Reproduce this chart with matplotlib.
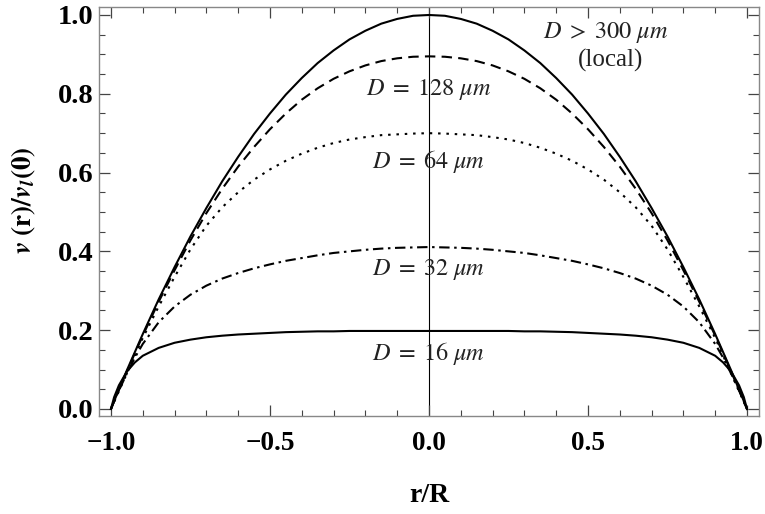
import matplotlib
matplotlib.use("Agg")
import matplotlib.pyplot as plt
from matplotlib.ticker import MultipleLocator

# radial position r/R and velocity profiles v(r)/v_l(0)
r = [-1.0, -0.99, -0.975, -0.95, -0.925, -0.9, -0.85, -0.8, -0.75, -0.7, -0.65, -0.6,
     -0.55, -0.5, -0.45, -0.4, -0.35, -0.3, -0.25, -0.2, -0.15, -0.1, -0.05, 0.0,
     0.05, 0.1, 0.15, 0.2, 0.25, 0.3, 0.35, 0.4, 0.45, 0.5, 0.55, 0.6, 0.65, 0.7,
     0.75, 0.8, 0.85, 0.9, 0.925, 0.95, 0.975, 0.99, 1.0]

v_local = [0.0, 0.020, 0.049, 0.098, 0.144, 0.190, 0.278, 0.360, 0.438, 0.510, 0.578, 0.640,
           0.698, 0.750, 0.798, 0.840, 0.878, 0.910, 0.938, 0.960, 0.978, 0.990, 0.998, 1.000,
           0.998, 0.990, 0.978, 0.960, 0.938, 0.910, 0.878, 0.840, 0.798, 0.750, 0.698, 0.640,
           0.578, 0.510, 0.438, 0.360, 0.278, 0.190, 0.144, 0.098, 0.049, 0.020, 0.0]
v_128 = [0.0, 0.019, 0.048, 0.095, 0.141, 0.186, 0.272, 0.352, 0.428, 0.497, 0.559, 0.615,
         0.665, 0.710, 0.750, 0.785, 0.814, 0.838, 0.857, 0.872, 0.883, 0.890, 0.894, 0.895,
         0.894, 0.890, 0.883, 0.872, 0.857, 0.838, 0.814, 0.785, 0.750, 0.710, 0.665, 0.615,
         0.559, 0.497, 0.428, 0.352, 0.272, 0.186, 0.141, 0.095, 0.048, 0.019, 0.0]
v_64 = [0.0, 0.018, 0.045, 0.090, 0.135, 0.180, 0.260, 0.335, 0.405, 0.465, 0.512, 0.550,
        0.582, 0.608, 0.630, 0.648, 0.663, 0.675, 0.684, 0.690, 0.695, 0.697, 0.699, 0.700,
        0.699, 0.697, 0.695, 0.690, 0.684, 0.675, 0.663, 0.648, 0.630, 0.608, 0.582, 0.550,
        0.512, 0.465, 0.405, 0.335, 0.260, 0.180, 0.135, 0.090, 0.045, 0.018, 0.0]
v_32 = [0.0, 0.020, 0.047, 0.090, 0.130, 0.165, 0.220, 0.260, 0.290, 0.313, 0.331, 0.345,
        0.357, 0.367, 0.376, 0.383, 0.390, 0.396, 0.400, 0.404, 0.407, 0.409, 0.410, 0.411,
        0.410, 0.409, 0.407, 0.404, 0.400, 0.396, 0.390, 0.383, 0.376, 0.367, 0.357, 0.345,
        0.331, 0.313, 0.290, 0.260, 0.220, 0.165, 0.130, 0.090, 0.047, 0.020, 0.0]
v_16 = [0.0, 0.030, 0.060, 0.095, 0.118, 0.135, 0.155, 0.168, 0.176, 0.182, 0.186, 0.189,
        0.191, 0.193, 0.195, 0.196, 0.197, 0.197, 0.198, 0.198, 0.198, 0.198, 0.198, 0.198,
        0.198, 0.198, 0.198, 0.198, 0.198, 0.197, 0.197, 0.196, 0.195, 0.193, 0.191, 0.189,
        0.186, 0.182, 0.176, 0.168, 0.155, 0.135, 0.118, 0.095, 0.060, 0.030, 0.0]

labels = [r"$D\;>\;300\ \mu m$", r"$D\;=\;128\ \mu m$", r"$D\;=\;64\ \mu m$",
          r"$D\;=\;32\ \mu m$", r"$D\;=\;16\ \mu m$"]
label_pos = [(0.555, 0.955), (0.0, 0.81), (0.0, 0.627), (0.0, 0.353), (0.0, 0.14)]

fig = plt.figure(figsize=(7.65, 5.14), dpi=100)
ax = fig.add_axes([0.1294, 0.1907, 0.8627, 0.7957])

lw = 1.5
ax.axvline(0, color="black", lw=0.8, zorder=1)
ax.plot(r, v_local, color="black", lw=lw)
ax.plot(r, v_128, color="black", lw=lw, dashes=(5, 3))
ax.plot(r, v_64, color="black", lw=lw, dashes=(1.2, 2.8))
ax.plot(r, v_32, color="black", lw=lw, dashes=(5, 2.2, 1.2, 2.2))
ax.plot(r, v_16, color="black", lw=lw)

for txt, (x, y) in zip(labels, label_pos):
    ax.text(x, y, txt, ha="center", va="center", fontsize=17.5,
            math_fontfamily="stix", color="#222222")
ax.text(0.57, 0.885, "(local)", ha="center", va="center", fontsize=18,
        family="Liberation Serif", color="#222222")

ax.set_xlim(-1.0376, 1.0376)
ax.set_ylim(-0.0178, 1.0203)
ax.xaxis.set_major_locator(MultipleLocator(0.5))
ax.xaxis.set_minor_locator(MultipleLocator(0.1))
ax.yaxis.set_major_locator(MultipleLocator(0.2))
ax.yaxis.set_minor_locator(MultipleLocator(0.05))
ax.tick_params(which="both", direction="in", top=True, right=True, color="#444444")
ax.tick_params(which="major", length=8, width=0.9, labelsize=20)
ax.tick_params(which="minor", length=4, width=0.8)
ax.tick_params(axis="x", which="major", pad=11, labelsize=19.5)
ax.tick_params(axis="y", which="major", pad=4, labelsize=20.5)
ax.xaxis.set_major_formatter(plt.FuncFormatter(lambda v, p: f"{v:.1f}".replace("-", "\u2212")))
ax.yaxis.set_major_formatter(plt.FuncFormatter(lambda v, p: f"{v:.1f}"))
for lab in ax.get_xticklabels() + ax.get_yticklabels():
    lab.set_family("Liberation Serif")
    lab.set_fontweight("bold")
for sp in ax.spines.values():
    sp.set_color("#888888")
    sp.set_linewidth(1.0)

ax.set_xlabel("r/R", family="Liberation Serif", fontweight="bold", fontsize=20, labelpad=19)
ax.set_ylabel(r"$\mathbfit{v}\ \mathbf{(r)/}\mathbfit{v}_{\mathbfit{l}}\mathbf{(0)}$",
              math_fontfamily="stix", fontsize=19.5)
ax.yaxis.set_label_coords(-0.092, 0.528)

fig.savefig("out.png", dpi=100)
